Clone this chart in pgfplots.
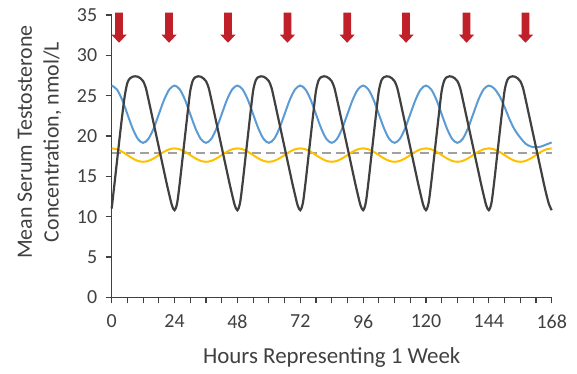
\documentclass[border=0pt]{standalone}
\usepackage{fontspec}
\setmainfont{Carlito}
\usepackage{pgfplots}
\pgfplotsset{compat=1.18}
\definecolor{axgray}{HTML}{404040}
\definecolor{sblue}{HTML}{5B9BD5}
\definecolor{syellow}{HTML}{FFC000}
\definecolor{sblack}{HTML}{404040}
\definecolor{sdash}{HTML}{A0A0A0}
\definecolor{arrowred}{HTML}{C0202A}
\pgfdeclareplotmark{dosearrow}{%
  \pgfpathmoveto{\pgfqpoint{0bp}{0bp}}%
  \pgfpathlineto{\pgfqpoint{7.5bp}{8bp}}%
  \pgfpathlineto{\pgfqpoint{3.85bp}{8bp}}%
  \pgfpathlineto{\pgfqpoint{3.85bp}{30bp}}%
  \pgfpathlineto{\pgfqpoint{-3.85bp}{30bp}}%
  \pgfpathlineto{\pgfqpoint{-3.85bp}{8bp}}%
  \pgfpathlineto{\pgfqpoint{-7.5bp}{8bp}}%
  \pgfpathclose
  \pgfusepathqfill}
\begin{document}
\begin{tikzpicture}
\begin{axis}[
  scale only axis, width=440bp, height=282.3bp,
  xmin=0, xmax=168, ymin=0, ymax=35,
  axis x line*=bottom, axis y line*=left,
  axis line style={axgray, line width=1.6bp, -},
  xtick={0,24,...,168}, minor x tick num=3,
  ytick={0,5,...,35},
  tick align=outside,
  major tick length=6bp, minor tick length=6bp,
  every tick/.style={axgray, line width=1.2bp},
  every minor tick/.style={axgray, line width=1.2bp},
  /pgf/number format/assume math mode=true,
  every tick label/.append style={font=\fontsize{20}{24}\selectfont, text=axgray},
  xticklabel style={yshift=-8bp},
  yticklabel style={xshift=-5bp},
  xlabel={Hours Representing 1 Week},
  ylabel={Mean Serum Testosterone\\Concentration, nmol/L},
  xlabel style={font=\fontsize{23}{27.6}\selectfont, text=axgray, at={(rel axis cs:0.5,-0.215)}, anchor=center},
  ylabel style={font=\fontsize{22}{27}\selectfont, text=axgray, align=center, at={(rel axis cs:-0.164,0.55)}, anchor=center},
  clip=false,
]
\coordinate (O) at (rel axis cs:0,0);
% dashed reference line
\addplot[sdash, line width=2bp, dash pattern=on 9bp off 5bp] coordinates {(0,17.93) (168,17.93)};
% yellow series
\addplot[syellow, line width=2bp, smooth] coordinates {
(0,18.46)(2,18.35)(4,18.05)(6,17.63)(8,17.22)(10,16.91)(12,16.80)(14,16.91)(16,17.22)(18,17.63)(20,18.05)(22,18.35)
(24,18.46)(26,18.35)(28,18.05)(30,17.63)(32,17.22)(34,16.91)(36,16.80)(38,16.91)(40,17.22)(42,17.63)(44,18.05)(46,18.35)
(48,18.46)(50,18.35)(52,18.05)(54,17.63)(56,17.22)(58,16.91)(60,16.80)(62,16.91)(64,17.22)(66,17.63)(68,18.05)(70,18.35)
(72,18.46)(74,18.35)(76,18.05)(78,17.63)(80,17.22)(82,16.91)(84,16.80)(86,16.91)(88,17.22)(90,17.63)(92,18.05)(94,18.35)
(96,18.46)(98,18.35)(100,18.05)(102,17.63)(104,17.22)(106,16.91)(108,16.80)(110,16.91)(112,17.22)(114,17.63)(116,18.05)(118,18.35)
(120,18.46)(122,18.35)(124,18.05)(126,17.63)(128,17.22)(130,16.91)(132,16.80)(134,16.91)(136,17.22)(138,17.63)(140,18.05)(142,18.35)
(144,18.46)(146,18.35)(148,18.05)(150,17.63)(152,17.22)(154,16.91)(156,16.80)(158,16.91)(160,17.22)(162,17.63)(164,18.05)(166,18.35)
(168,18.46)};
% blue series
\addplot[sblue, line width=2bp, smooth] coordinates {
(0,26.25)(2,25.77)(4,24.48)(6,22.7)(8,20.93)(10,19.63)(12,19.15)(14,19.63)(16,20.93)(18,22.7)(20,24.48)(22,25.77)
(24,26.25)(26,25.77)(28,24.48)(30,22.7)(32,20.93)(34,19.63)(36,19.15)(38,19.63)(40,20.93)(42,22.7)(44,24.48)(46,25.77)
(48,26.25)(50,25.77)(52,24.48)(54,22.7)(56,20.93)(58,19.63)(60,19.15)(62,19.63)(64,20.93)(66,22.7)(68,24.48)(70,25.77)
(72,26.25)(74,25.77)(76,24.48)(78,22.7)(80,20.93)(82,19.63)(84,19.15)(86,19.63)(88,20.93)(90,22.7)(92,24.48)(94,25.77)
(96,26.25)(98,25.77)(100,24.48)(102,22.7)(104,20.93)(106,19.63)(108,19.15)(110,19.63)(112,20.93)(114,22.7)(116,24.48)(118,25.77)
(120,26.25)(122,25.77)(124,24.48)(126,22.7)(128,20.93)(130,19.63)(132,19.15)(134,19.63)(136,20.93)(138,22.7)(140,24.48)(142,25.77)
(144,26.25)(146,25.9)(148,25.0)(150,23.6)(152,22.0)(154,20.7)(156,19.8)(158,19.05)(160,18.7)(162,18.6)(164,18.7)(166,18.95)
(168,19.2)};
% black series
\addplot[sblack, line width=2.2bp, smooth] coordinates {
(0,11.0)(1,13.9)(2,16.8)(3,19.7)(4,22.5)(5,25.0)(6,26.6)(7,27.15)(8,27.35)(9,27.4)(10,27.35)(11,27.15)(12,26.8)(13,26.0)(14,24.6)(15,23.1)(16,21.6)(17,20.1)(18,18.6)(19,17.1)(20,15.6)(21,14.1)(22,12.7)(23,11.4)
(24,10.8)(25,11.7)(26,14.2)(27,17.1)(28,20.0)(29,22.9)(30,25.6)(31,26.9)(32,27.3)(33,27.4)(34,27.35)(35,27.15)(36,26.8)(37,26.0)(38,24.6)(39,23.1)(40,21.6)(41,20.1)(42,18.6)(43,17.1)(44,15.6)(45,14.1)(46,12.7)(47,11.4)
(48,10.8)(49,11.7)(50,14.2)(51,17.1)(52,20.0)(53,22.9)(54,25.6)(55,26.9)(56,27.3)(57,27.4)(58,27.35)(59,27.15)(60,26.8)(61,26.0)(62,24.6)(63,23.1)(64,21.6)(65,20.1)(66,18.6)(67,17.1)(68,15.6)(69,14.1)(70,12.7)(71,11.4)
(72,10.8)(73,11.7)(74,14.2)(75,17.1)(76,20.0)(77,22.9)(78,25.6)(79,26.9)(80,27.3)(81,27.4)(82,27.35)(83,27.15)(84,26.8)(85,26.0)(86,24.6)(87,23.1)(88,21.6)(89,20.1)(90,18.6)(91,17.1)(92,15.6)(93,14.1)(94,12.7)(95,11.4)
(96,10.8)(97,11.7)(98,14.2)(99,17.1)(100,20.0)(101,22.9)(102,25.6)(103,26.9)(104,27.3)(105,27.4)(106,27.35)(107,27.15)(108,26.8)(109,26.0)(110,24.6)(111,23.1)(112,21.6)(113,20.1)(114,18.6)(115,17.1)(116,15.6)(117,14.1)(118,12.7)(119,11.4)
(120,10.8)(121,11.7)(122,14.2)(123,17.1)(124,20.0)(125,22.9)(126,25.6)(127,26.9)(128,27.3)(129,27.4)(130,27.35)(131,27.15)(132,26.8)(133,26.0)(134,24.6)(135,23.1)(136,21.6)(137,20.1)(138,18.6)(139,17.1)(140,15.6)(141,14.1)(142,12.7)(143,11.4)
(144,10.8)(145,11.7)(146,14.2)(147,17.1)(148,20.0)(149,22.9)(150,25.6)(151,26.9)(152,27.3)(153,27.4)(154,27.35)(155,27.15)(156,26.8)(157,26.0)(158,24.6)(159,23.1)(160,21.6)(161,20.1)(162,18.6)(163,17.1)(164,15.6)(165,14.1)(166,12.7)(167,11.5)
(168,10.8)};
% dose arrows (tip positions)
\addplot[only marks, mark=dosearrow, color=arrowred, mark options={fill=arrowred, draw=none}] coordinates {
(2.8,31.56)(21.9,31.56)(44.4,31.56)(67.1,31.56)(89.9,31.56)(112.4,31.56)(135.5,31.56)(158.0,31.56)};
\end{axis}
\pgfresetboundingbox
\path (O) ++(-111.7bp,-76.7bp) rectangle ++(577bp,374bp);
\end{tikzpicture}
\end{document}
